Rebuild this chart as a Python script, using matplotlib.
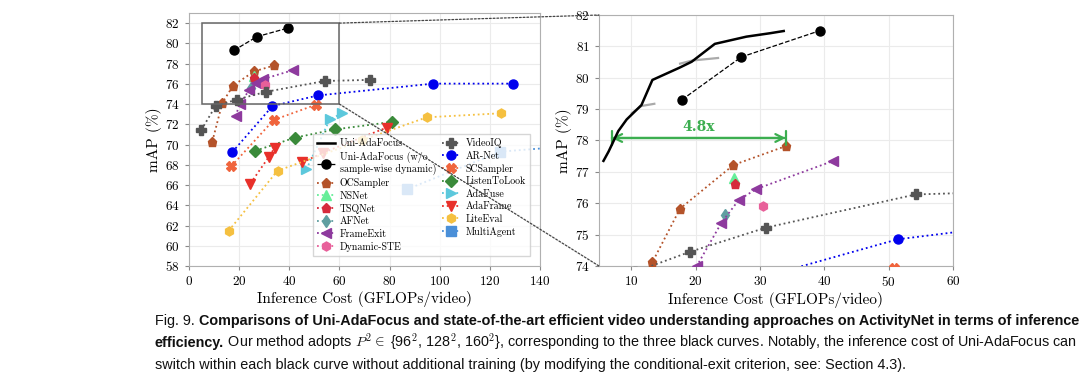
import numpy as np
import matplotlib
matplotlib.use("Agg")
import matplotlib.pyplot as plt
from matplotlib.patches import Rectangle, ConnectionPatch

plt.rcParams['font.family'] = 'cmr10'
plt.rcParams['mathtext.fontset'] = 'cm'
plt.rcParams['axes.formatter.use_mathtext'] = True

# data (GFLOPs/video, mAP %)
ours_x = [5.7, 6.5, 8.0, 9.3, 11.6, 13.3, 17.5, 19.4, 23.0, 27.9, 31.6, 33.7]
ours_y = [77.35, 77.65, 78.3, 78.67, 79.13, 79.93, 80.32, 80.51, 81.08, 81.31, 81.42, 81.49]
grey1_x = [10.1, 11.6, 13.6]
grey1_y = [78.87, 79.1, 79.17]
grey2_x = [17.6, 19.5, 23.5]
grey2_y = [80.45, 80.55, 80.63]
wo_x = [17.9, 27.1, 39.3]
wo_y = [79.3, 80.66, 81.5]

ocs_x = [9.3, 13.3, 17.6, 25.9, 34.0]
ocs_y = [70.3, 74.12, 75.83, 77.22, 77.82]
nsnet_x = [26.0]
nsnet_y = [76.8]
tsq_x = [26.1]
tsq_y = [76.6]
afnet_x = [24.6]
afnet_y = [75.62]
fexit_x = [18.6, 20.2, 24.0, 26.7, 29.4, 41.4]
fexit_y = [72.8, 74.0, 75.37, 76.1, 76.45, 77.35]
dste_x = [30.5]
dste_y = [75.9]
viq_x = [4.9, 10.6, 19.1, 30.9, 54.2, 72.1]
viq_y = [71.44, 73.81, 74.45, 75.22, 76.28, 76.39]
arnet_x = [17.3, 33.3, 51.4, 97.4, 129.4]
arnet_y = [69.26, 73.81, 74.85, 76.02, 76.02]
scs_x = [16.9, 33.8, 50.8]
scs_y = [67.87, 72.43, 73.95]
ltl_x = [26.5, 42.2, 58.4, 80.8]
ltl_y = [69.39, 70.68, 71.5, 72.23]
afuse_x = [46.8, 56.2, 61.1]
afuse_y = [67.54, 72.5, 73.09]
aframe1_x = [24.5, 31.9, 34.2]
aframe1_y = [66.15, 68.8, 69.7]
aframe2_x = [45.2, 53.5, 78.8]
aframe2_y = [68.23, 69.2, 71.67]
lite_x = [15.8, 35.3, 69.2, 94.8, 124.4]
lite_y = [61.47, 67.41, 70.44, 72.69, 73.09]
magent_x = [86.8, 124.2, 150.0]
magent_y = [65.56, 69.3, 69.8]

baselines = [
    ("OCSampler", ocs_x, ocs_y, '#b4532a', 'p'),
    ("NSNet", nsnet_x, nsnet_y, '#66ee99', '^'),
    ("TSQNet", tsq_x, tsq_y, '#d62a3c', 'p'),
    ("AFNet", afnet_x, afnet_y, '#5f9ea0', 'd'),
    ("FrameExit", fexit_x, fexit_y, '#8e3a9e', '<'),
    ("Dynamic-STE", dste_x, dste_y, '#e8609a', 'h'),
    ("VideoIQ", viq_x, viq_y, '#555555', 'P'),
    ("AR-Net", arnet_x, arnet_y, '#0000ee', 'o'),
    ("SCSampler", scs_x, scs_y, '#f0643c', 'X'),
    ("ListenToLook", ltl_x, ltl_y, '#3a8a3a', 'D'),
    ("AdaFuse", afuse_x, afuse_y, '#5cc8dc', '>'),
    ("AdaFrame", aframe1_x, aframe1_y, '#e8302a', 'v'),
    ("_AdaFrame", aframe2_x, aframe2_y, '#e8302a', 'v'),
    ("LiteEval", lite_x, lite_y, '#f5c040', 'h'),
    ("MultiAgent", magent_x, magent_y, '#4a8fd8', 's'),
]


def draw_all(ax, zoomed):
    ax.plot(ours_x if zoomed else [], ours_y if zoomed else [],
            color='black', lw=1.8, label='Uni-AdaFocus', zorder=5)
    if zoomed:
        ax.plot(grey1_x, grey1_y, color='#aaaaaa', lw=1.6, zorder=4)
        ax.plot(grey2_x, grey2_y, color='#aaaaaa', lw=1.6, zorder=4)
    ax.plot(wo_x, wo_y, color='black', ls='--', lw=0.9, marker='o',
            ms=6.5, label='Uni-AdaFocus (w/o\nsample-wise dynamic)', zorder=5)
    for name, xs, ys, c, m in baselines:
        ms = 6.5 if m not in ('D', 'd') else 6
        ax.plot(xs, ys, color=c, ls=':', lw=1.3, marker=m, ms=ms, label=name,
                zorder=3)
    ax.grid(True, color='#ebebeb', lw=0.8)
    ax.set_axisbelow(True)
    for s in ax.spines.values():
        s.set_color('#b0b0b0')
    ax.tick_params(labelsize=9.5, color='#888888', length=3, width=0.8)
    ax.set_xlabel('Inference Cost (GFLOPs/video)', fontsize=11, labelpad=2)
    ax.set_ylabel('mAP (%)', fontsize=11, labelpad=2)


fig = plt.figure(figsize=(10.8, 3.82), dpi=100)
ax1 = fig.add_axes([0.175, 0.3037, 0.325, 0.6623])
ax2 = fig.add_axes([0.5546, 0.3037, 0.3278, 0.657])

draw_all(ax1, False)
ax1.set_xlim(0, 140)
ax1.set_ylim(58, 83)
ax1.set_xticks(np.arange(0, 141, 20))
ax1.set_yticks(np.arange(58, 83, 2))
ax1.add_patch(Rectangle((5, 74), 55, 8, fill=False, edgecolor='#666666', lw=1.1, zorder=6))

leg = ax1.legend(ncol=2, loc='lower right', bbox_to_anchor=(0.985, 0.02),
                 fontsize=7.2, framealpha=0.8, edgecolor='#cccccc', fancybox=False,
                 handlelength=1.8, labelspacing=0.3, columnspacing=0.6,
                 borderpad=0.4, handletextpad=0.5)
leg.set_zorder(7)

draw_all(ax2, True)
ax2.set_xlim(5, 60)
ax2.set_ylim(74, 82)
ax2.set_xticks(np.arange(10, 61, 10))
ax2.set_yticks(np.arange(74, 83, 1))

# 4.8x speed-up arrow
green = '#3cae50'
ax2.annotate('', xy=(34.0, 78.08), xytext=(7.0, 78.08),
             arrowprops=dict(arrowstyle='<->', color=green, lw=1.6,
                             shrinkA=0, shrinkB=0, mutation_scale=14))
ax2.annotate('', xy=(34.0, 78.08), xytext=(7.0, 78.08),
             arrowprops=dict(arrowstyle='|-|', color=green, lw=1.6,
                             shrinkA=0, shrinkB=0, mutation_scale=5))
ax2.text(20.5, 78.2, '4.8x', color=green, fontsize=10, fontweight='bold',
         ha='center', va='bottom', family='DejaVu Serif')

for ya, yb in [(82, 82), (74, 74)]:
    con = ConnectionPatch(xyA=(60, ya), coordsA=ax1.transData,
                          xyB=(5, yb), coordsB=ax2.transData,
                          color='#444444', ls=(0, (1.5, 1.5)), lw=0.9, zorder=10)
    fig.add_artist(con)

# caption with mixed weights
cap_font = ['Liberation Sans Narrow', 'Liberation Sans']
caption = [
    (0.149, [("Fig. 9. ", 'normal'),
             ("Comparisons of Uni-AdaFocus and state-of-the-art efficient video understanding "
              "approaches on ActivityNet in terms of inference", 'bold')]),
    (0.0916, [("efficiency.", 'bold'),
              (" Our method adopts $P^2 \\in$ {96$^2$, 128$^2$, 160$^2$}, corresponding to the "
               "three black curves. Notably, the inference cost of Uni-AdaFocus can", 'normal')]),
    (0.034, [("switch within each black curve without additional training (by modifying the "
              "conditional-exit criterion, see: Section 4.3).", 'normal')]),
]
renderer = fig.canvas.get_renderer()


def line_width(parts, size):
    w = 0
    for s, wt in parts:
        t = fig.text(0, 0, s, fontsize=size, fontweight=wt, family=cap_font)
        w += t.get_window_extent(renderer=renderer).width
        t.remove()
    return w


# the original uses a narrow face; fit the first line to its width
cap_size = 11 * 923 / line_width(caption[0][1], 11)

for y, parts in caption:
    x = 0.1435
    for s, w in parts:
        t = fig.text(x, y, s, fontsize=cap_size, fontweight=w, family=cap_font,
                     ha='left', va='baseline', color='#111111')
        bb = t.get_window_extent(renderer=renderer)
        x = bb.x1 / fig.bbox.width

fig.savefig('out.png', dpi=100)
